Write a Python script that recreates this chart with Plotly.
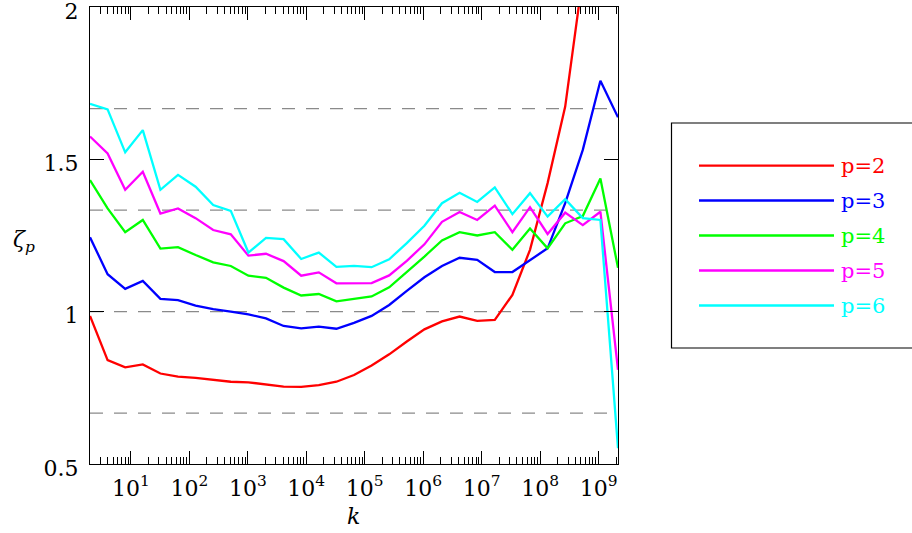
import plotly.graph_objects as go

# k values (powers of two)
k = [2, 4, 8, 16, 32, 64, 128, 256, 512, 1024, 2048, 4096, 8192, 16384, 32768,
     65536, 131072, 262144, 524288, 1048576, 2097152, 4194304, 8388608,
     16777216, 33554432, 67108864, 134217728, 268435456, 536870912,
     1073741824, 2147483648]

p2 = [0.986, 0.841, 0.817, 0.827, 0.797, 0.787, 0.783, 0.776, 0.770, 0.768, 0.762,
      0.754, 0.753, 0.759, 0.770, 0.792, 0.823, 0.860, 0.902, 0.942, 0.968, 0.984,
      0.970, 0.973, 1.055, 1.203, 1.422, 1.673, 2.10, 2.5, 2.9]
p3 = [1.244, 1.123, 1.075, 1.101, 1.042, 1.038, 1.020, 1.008, 1.000, 0.991, 0.978,
      0.953, 0.945, 0.951, 0.944, 0.963, 0.986, 1.022, 1.068, 1.113, 1.150, 1.177,
      1.170, 1.130, 1.130, 1.170, 1.208, 1.356, 1.531, 1.758, 1.638]
p4 = [1.432, 1.339, 1.261, 1.301, 1.207, 1.212, 1.186, 1.162, 1.150, 1.118, 1.111,
      1.079, 1.053, 1.058, 1.034, 1.041, 1.050, 1.080, 1.129, 1.181, 1.234, 1.261,
      1.250, 1.261, 1.203, 1.273, 1.208, 1.290, 1.314, 1.437, 1.144]
p5 = [1.575, 1.519, 1.400, 1.459, 1.322, 1.339, 1.307, 1.268, 1.254, 1.184, 1.190,
      1.166, 1.118, 1.129, 1.093, 1.094, 1.094, 1.119, 1.167, 1.221, 1.295, 1.327,
      1.301, 1.348, 1.261, 1.343, 1.255, 1.325, 1.284, 1.328, 0.809]
p6 = [1.682, 1.664, 1.523, 1.596, 1.400, 1.449, 1.410, 1.350, 1.331, 1.194, 1.242,
      1.238, 1.173, 1.194, 1.147, 1.150, 1.146, 1.172, 1.225, 1.282, 1.356, 1.390,
      1.360, 1.408, 1.320, 1.389, 1.312, 1.369, 1.307, 1.301, 0.552]

series_names = ["p=2", "p=3", "p=4", "p=5", "p=6"]
series_vals = [p2, p3, p4, p5, p6]
colors = ["#ff0000", "#0000ff", "#00ff00", "#ff00ff", "#00ffff"]

ref_levels = [2 / 3, 1.0, 4 / 3, 5 / 3]

xtick_vals = [10, 100, 1000, 1e4, 1e5, 1e6, 1e7, 1e8, 1e9]
xtick_text = ["10<sup>%d</sup>" % i for i in range(1, 10)]
ytick_vals = [0.5, 1, 1.5, 2]
ytick_text = ["0.5", "1", "1.5", "2"]

FONT = "DejaVu Serif"

fig = go.Figure()

# dashed reference levels
for lv in ref_levels:
    fig.add_trace(go.Scatter(x=[k[0], k[-1]], y=[lv, lv], mode="lines",
                             line=dict(color="#8a8a8a", width=1.2, dash="13px,11px"),
                             showlegend=False, hoverinfo="skip"))

for name, vals, c in zip(series_names, series_vals, colors):
    fig.add_trace(go.Scatter(x=k, y=vals, mode="lines", name=name,
                             line=dict(color=c, width=2.3), showlegend=False))

# plot area geometry (px)
L, R, T, B = 90, 618, 7, 464
W, H = R - L, B - T


def px_x(px):
    return (px - L) / W


def px_y(py):
    return (B - py) / H


shapes = []
annotations = []
# legend box
shapes.append(dict(type="rect", xref="paper", yref="paper",
                   x0=px_x(671.5), x1=px_x(930), y0=px_y(348), y1=px_y(123),
                   line=dict(color="black", width=1.2), fillcolor="white"))
leg_y = [165.7, 200.5, 235.5, 270.5, 305.5]
for name, c, yy in zip(series_names, colors, leg_y):
    shapes.append(dict(type="line", xref="paper", yref="paper",
                       x0=px_x(699), x1=px_x(834), y0=px_y(yy), y1=px_y(yy),
                       line=dict(color=c, width=2.3)))
    annotations.append(dict(xref="paper", yref="paper", x=px_x(839), y=px_y(yy),
                            xanchor="left", yanchor="middle", text=name,
                            showarrow=False, font=dict(family=FONT, size=21, color=c)))

annotations.append(dict(xref="paper", yref="paper", x=px_x(24), y=px_y(241),
                        xanchor="center", yanchor="middle",
                        text="<i>ζ</i><sub><i>p</i></sub>", showarrow=False,
                        font=dict(family=FONT, size=22, color="black")))
annotations.append(dict(xref="paper", yref="paper", x=px_x(353), y=px_y(516),
                        xanchor="center", yanchor="middle",
                        text="<i>k</i>", showarrow=False,
                        font=dict(family=FONT, size=22, color="black")))

fig.update_layout(
    width=912, height=533,
    margin=dict(l=L, r=912 - R, t=T, b=533 - B),
    paper_bgcolor="white", plot_bgcolor="white",
    showlegend=False,
    shapes=shapes, annotations=annotations,
    font=dict(family=FONT, size=22, color="black"),
    xaxis=dict(type="log", range=[0.30103, 9.33193],
               tickvals=xtick_vals, ticktext=xtick_text,
               ticks="inside", ticklen=13, tickwidth=1.2, tickcolor="black",
               minor=dict(ticks="inside", ticklen=7, tickwidth=1, tickcolor="black",
                          dtick="D1", showgrid=False),
               showline=True, linecolor="black", linewidth=1.2, mirror="allticks",
               showgrid=False, zeroline=False, ticklabelstandoff=4,
               automargin=False,
               tickfont=dict(family=FONT, size=22)),
    yaxis=dict(range=[0.5, 2], tickvals=ytick_vals, ticktext=ytick_text,
               ticks="inside", ticklen=14, tickwidth=1.2, tickcolor="black",
               showline=True, linecolor="black", linewidth=1.2, mirror="allticks",
               showgrid=False, zeroline=False, ticklabeloverflow="allow",
               ticklabelstandoff=6, ticklabelshift=4, automargin=False,
               tickfont=dict(family=FONT, size=22)),
)

fig.write_html("out.html", config={"displayModeBar": False},
               post_script="document.body.style.margin='0px';")
